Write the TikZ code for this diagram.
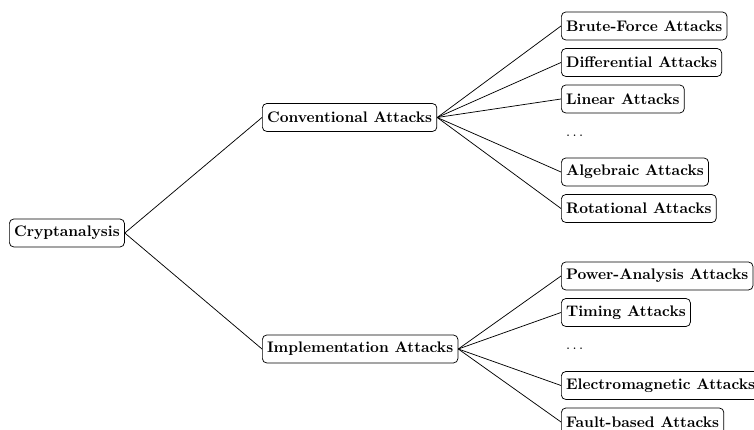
\documentclass[tikz,border=0pt]{standalone}
\begin{document}
\begin{tikzpicture}[x=0.68pt,y=-0.68pt,
  box/.style={draw,rounded corners=3pt,line width=0.5pt,inner xsep=3.2pt,minimum height=19pt,font=\fontsize{10.4}{12.5}\selectfont\bfseries,anchor=west},
  dotsnode/.style={inner xsep=3.2pt,minimum height=19pt,anchor=west,font=\fontsize{10.4}{12.5}\selectfont},
  edge/.style={line width=0.5pt}]
\clip (0,0) rectangle (754,430);
\useasboundingbox (0,0) rectangle (754,430);
\node[box] (root) at (9,233) {Cryptanalysis};
\node[box] (conv) at (262,117.5) {Conventional Attacks};
\node[box] (impl) at (262,349) {Implementation Attacks};
\node[box] (bf) at (561,26) {Brute-Force Attacks};
\node[box] (diff) at (561,62.5) {Differential Attacks};
\node[box] (lin) at (561,99) {Linear Attacks};
\node[dotsnode] (d1) at (561,135.5) {$\ldots$};
\node[box] (alg) at (561,172) {Algebraic Attacks};
\node[box] (rot) at (561,208.5) {Rotational Attacks};
\node[box] (pow) at (561,276) {Power-Analysis Attacks};
\node[box] (tim) at (561,312.5) {Timing Attacks};
\node[dotsnode] (d2) at (561,349) {$\ldots$};
\node[box] (em) at (561,385.5) {Electromagnetic Attacks};
\node[box] (fault) at (561,422) {Fault-based Attacks};
\draw[edge] (root.east) -- (conv.west);
\draw[edge] (root.east) -- (impl.west);
\foreach \c in {bf,diff,lin,alg,rot} \draw[edge] (conv.east) -- (\c.west);
\foreach \c in {pow,tim,em,fault} \draw[edge] (impl.east) -- (\c.west);
\end{tikzpicture}
\end{document}
